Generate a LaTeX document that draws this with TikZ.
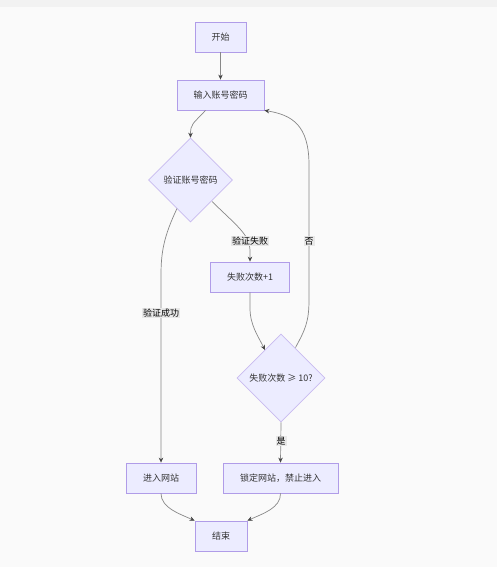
\documentclass[tikz,border=0pt]{standalone}
\usepackage{fontspec}
\setmainfont{Noto Sans CJK SC}
\usetikzlibrary{shapes.geometric,arrows.meta,calc}
\definecolor{nodefill}{HTML}{ECECFF}
\definecolor{nodeline}{HTML}{B09CE8}
\definecolor{edgecol}{HTML}{888888}
\definecolor{txt}{HTML}{333333}
\definecolor{lblbg}{HTML}{E8E8E8}
\definecolor{bg}{HTML}{FAFAFA}
\definecolor{band}{HTML}{F2F2F2}
\tikzset{
  box/.style={draw=nodeline, fill=nodefill, line width=0.8pt, inner sep=0pt, text=txt, font=\fontsize{9}{10}\selectfont},
  dia/.style={diamond, draw=nodeline!70, fill=nodefill, line width=0.6pt, inner sep=0pt, text=txt, font=\fontsize{9}{10}\selectfont},
  edge/.style={draw=edgecol, line width=0.7pt, -{Stealth[length=5pt,width=4.5pt,color=txt!90]}},
  lbl/.style={fill=lblbg, inner sep=1pt, text=black, font=\fontsize{9}{10}\selectfont}
}
\begin{document}
\begin{tikzpicture}[x=1pt,y=-1pt]
\fill[bg] (0,0) rectangle (497,567);
\fill[band] (0,0) rectangle (497,7);
\useasboundingbox (0,0) rectangle (497,567);

\node[box, minimum width=51, minimum height=30] (start) at (220.5,37) {开始};
\node[box, minimum width=87, minimum height=30] (input) at (220.5,95) {输入账号密码};
\node[dia, minimum width=84, minimum height=84] (v) at (190.5,180) {验证账号密码};
\node[box, minimum width=79, minimum height=30] (fail) at (250,277) {失败次数+1};
\node[dia, minimum width=88, minimum height=88] (c) at (281,378) {失败次数 ≥ 10?};
\node[box, minimum width=70, minimum height=30] (enter) at (161,478) {进入网站};
\node[box, minimum width=115, minimum height=30] (lock) at (280.5,478) {锁定网站，禁止进入};
\node[box, minimum width=52, minimum height=30] (end) at (221,536) {结束};

\draw[edge] (start) -- (input);
\draw[edge] ($(input.south)+(-15,0)$) .. controls ($(input.south)+(-28,14)$) and ($(v.north)+(0,-14)$) .. (v.north);
\draw[edge] ($(v.center)+(21.5,21.5)$) .. controls (236,225) and (250,235) .. (250,250) -- (fail.north);
\draw[edge] ($(v.center)+(-13.5,28.5)$) .. controls (164,236) and (161,252) .. (161,275) -- (enter.north);
\draw[edge] (fail.south) -- (250,308) .. controls (250,325) and (258,336) .. ($(c.center)+(-16,-28)$);
\draw[edge] ($(c.center)+(14.5,-30.5)$) .. controls (305,330) and (309,322) .. (309,300) -- (309,165) .. controls (309,125) and (292,115) .. (input.south east);
\draw[edge] (c.south) -- (lock.north);
\draw[edge] (enter.south) .. controls (161,508) and (180,514) .. (end.north west);
\draw[edge] (lock.south) .. controls (281,508) and (262,514) .. (end.north east);

\node[lbl] (l1) at (250,241) {验证失败};
\node[lbl] (l2) at (161,313) {验证成功};
\node[lbl] (l3) at (309,241) {否};
\node[lbl] (l4) at (281,441) {是};
\end{tikzpicture}
\end{document}
